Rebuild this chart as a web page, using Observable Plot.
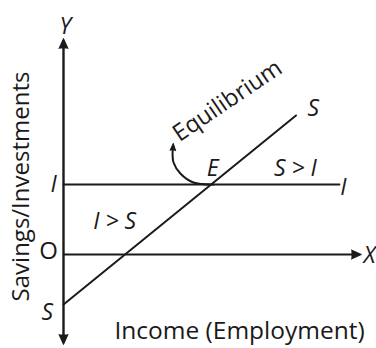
<!DOCTYPE html>
<html>
<head>
<meta charset="utf-8">
<script src="https://cdn.jsdelivr.net/npm/d3@7"></script>
<script src="https://cdn.jsdelivr.net/npm/@observablehq/plot@0.6"></script>
<style>
  html, body { margin: 0; padding: 0; background: #fff; }
  #chart svg { display: block; }
</style>
</head>
<body>
<div id="chart"></div>
<script>
// Saving function S (income, saving)
const savingsLine = [
  { income: 0, value: -2 },
  { income: 7.5, value: 5.56 }
];
// Investment line I (constant autonomous investment)
const investmentLine = [
  { income: 0, value: 2.8 },
  { income: 8.9, value: 2.8 }
];
// Axis extents
const xAxisEnd = 9.61;
const yAxisTop = 8.64;
const yAxisBottom = -3.6;
// Curved "Equilibrium" pointer
const pointerPath = [
  { income: 4.84, value: 2.8 },
  { income: 4.19, value: 2.88 },
  { income: 3.77, value: 3.24 },
  { income: 3.55, value: 3.68 },
  { income: 3.52, value: 4.16 }
];
const pointerTip = [{ income: 3.54, value: 4.44, angle: 3 }];
// Axis arrowheads
const axisHeads = [
  { income: 0, value: yAxisTop, angle: 0 },
  { income: 0, value: yAxisBottom, angle: 180 },
  { income: xAxisEnd, value: 0, angle: 90 }
];
// Italic letter labels
const letterLabels = [
  { income: 0.06, value: 9.1, text: "Y" },
  { income: 9.87, value: -0.04, text: "X" },
  { income: 8.06, value: 5.84, text: "S" },
  { income: 4.81, value: 3.44, text: "E" },
  { income: 7.48, value: 3.44, text: "S > I" },
  { income: 9.03, value: 2.68, text: "I" },
  { income: -0.32, value: 2.8, text: "I" },
  { income: 1.65, value: 1.32, text: "I > S" },
  { income: -0.52, value: -2.32, text: "S" }
];
const originLabel = [{ income: -0.48, value: 0.12, text: "O" }];
const xTitle = [{ income: 5.68, value: -3.08, text: "Income (Employment)" }];
const yTitle = [{ income: -1.35, value: 2.72, text: "Savings/Investments" }];
const eqLabel = [{ income: 5.29, value: 6.15, text: "Equilibrium" }];

const ink = "#1a1a1a";
const chart = Plot.plot({
  width: 376,
  height: 348,
  margin: 0,
  x: { domain: [-63 / 31, 313 / 31], axis: null },
  y: { domain: [-3.76, 10.16], axis: null },
  style: { fontFamily: "'Open Sans', sans-serif", background: "#fff", color: ink },
  marks: [
    Plot.ruleY([0], { x1: 0, x2: xAxisEnd - 0.2, stroke: ink, strokeWidth: 2 }),
    Plot.ruleX([0], { y1: yAxisBottom + 0.2, y2: yAxisTop - 0.2, stroke: ink, strokeWidth: 2.4 }),
    Plot.line(investmentLine, { x: "income", y: "value", stroke: ink, strokeWidth: 2 }),
    Plot.line(savingsLine, { x: "income", y: "value", stroke: ink, strokeWidth: 2 }),
    Plot.line(pointerPath, { x: "income", y: "value", stroke: ink, strokeWidth: 2, curve: "catmull-rom" }),
    Plot.vector(axisHeads, { x: "income", y: "value", rotate: "angle", shape: "spike", anchor: "end", length: 10, r: 4.5, fill: ink, stroke: ink, strokeWidth: 1 }),
    Plot.vector(pointerTip, { x: "income", y: "value", rotate: "angle", shape: "spike", anchor: "end", length: 7, r: 2.8, fill: ink, stroke: ink, strokeWidth: 1 }),
    Plot.text(letterLabels, { x: "income", y: "value", text: "text", fontSize: 23, fontStyle: "italic", fill: ink }),
    Plot.text(originLabel, { x: "income", y: "value", text: "text", fontSize: 24, fill: ink }),
    Plot.text(xTitle, { x: "income", y: "value", text: "text", fontSize: 24.5, fill: ink }),
    Plot.text(yTitle, { x: "income", y: "value", text: "text", fontSize: 24, rotate: -90, fill: ink }),
    Plot.text(eqLabel, { x: "income", y: "value", text: "text", fontSize: 23.5, rotate: -34, fill: ink })
  ]
});
document.getElementById("chart").appendChild(chart);
</script>
</body>
</html>
